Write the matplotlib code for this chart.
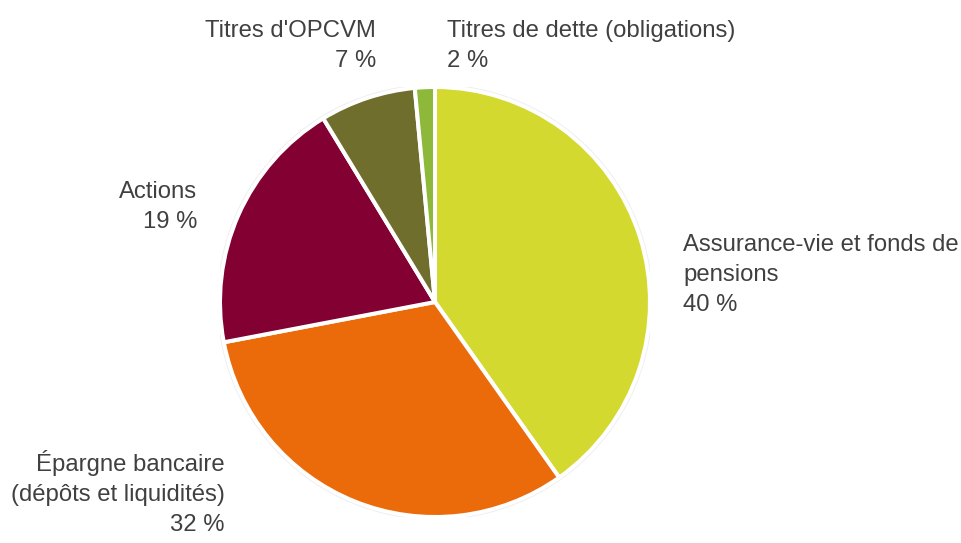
import matplotlib
matplotlib.use("Agg")
import matplotlib.pyplot as plt
from matplotlib.patches import Circle

# Répartition du patrimoine financier des ménages (%)
categories = [
    "Assurance-vie et fonds de\npensions",
    "Épargne bancaire\n(dépôts et liquidités)",
    "Actions",
    "Titres d'OPCVM",
    "Titres de dette (obligations)",
]
values = [40.2, 31.8, 19.3, 7.2, 1.5]
colors = ["#D4D92F", "#EB6B0B", "#820032", "#6F6E2C", "#8EB83A"]

W, H = 961, 543
fig = plt.figure(figsize=(W / 100, H / 100), dpi=100)
plt.rcParams["font.family"] = ["Liberation Sans", "DejaVu Sans"]

cx, cy, r = 435, 302, 215
ax = fig.add_axes([(cx - r) / W, (H - cy - r) / H, 2 * r / W, 2 * r / H])
ax.set_xlim(-1, 1)
ax.set_ylim(-1, 1)
ax.set_aspect("equal")
ax.axis("off")

ax.add_patch(Circle((0, 0), 1.008, facecolor="none", edgecolor="#EDEDED",
                    lw=1.6, zorder=0))
ax.pie(values, colors=colors, startangle=90, counterclock=False,
       radius=1.0, wedgeprops=dict(edgecolor="white", linewidth=2.9),
       frame=False)
ax.set_xlim(-1, 1)
ax.set_ylim(-1, 1)


def px(x, y):
    return (x - cx) / r, (cy - y) / r


# label anchor (pixel) and alignment for each slice
label_pos = [
    (683, 275, "left"),
    (225, 493, "right"),
    (197, 207, "right"),
    (376, 46, "right"),
    (447, 46, "left"),
]
for name, v, (x, y, ha) in zip(categories, values, label_pos):
    lx, ly = px(x, y)
    ax.text(lx, ly, f"{name}\n{v:.0f} %", ha=ha, va="center",
            multialignment=ha, fontsize=17.2, color="#404040",
            linespacing=1.45, clip_on=False)

fig.savefig("out.png", dpi=100)
